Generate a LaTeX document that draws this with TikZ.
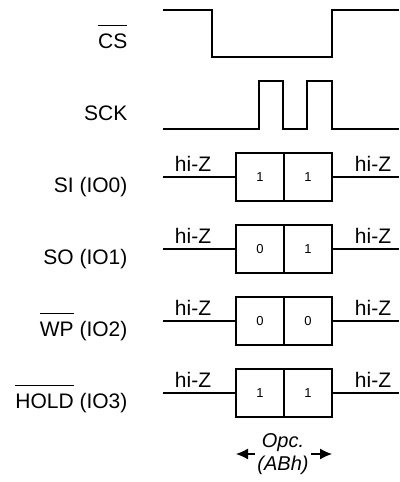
\documentclass[tikz,border=0pt]{standalone}
\usepackage{fontspec}
\setmainfont{Liberation Sans}
\usetikzlibrary{arrows.meta}

% bar over active-low signal names
\newcommand{\nbar}[1]{\setbox0\hbox{#1}\rlap{\rule[1.5\ht0]{\wd0}{1.2pt}}\box0\relax}

\begin{document}
\begin{tikzpicture}[x=1pt,y=-1pt,line width=1.2pt,
  lbl/.style={anchor=base east,inner sep=0pt,font=\fontsize{21}{25}\selectfont},
  hiz/.style={anchor=base,inner sep=0pt,font=\fontsize{21}{25}\selectfont},
  cell/.style={draw,minimum size=48pt,inner sep=0pt,font=\fontsize{13}{15}\selectfont},
  arr/.style={-{Latex[length=12pt,width=11pt]}}]
\useasboundingbox (0,0) rectangle (399,482);

% Chip select
\node[lbl] (cs) at (128,48) {\nbar{CS}};
\draw (163,10) -- (212,10) -- (212,57) -- (332,57) -- (332,10) -- (399,10);

% Clock, two pulses
\node[lbl] (sck) at (128,120) {SCK};
\draw (163,129) -- (259,129) -- (259,81) -- (283,81) -- (283,129)
  -- (307,129) -- (307,81) -- (332,81) -- (332,129) -- (399,129);

% Data lines
\foreach \y/\name/\lab/\a/\b in {177/si/{SI (IO0)}/1/1,
    249/so/{SO (IO1)}/0/1,
    321/wp/{\nbar{WP} (IO2)}/0/0,
    393/hold/{\nbar{HOLD} (IO3)}/1/1}{
  \node[lbl] (\name) at (128,\y+15) {\lab};
  \node[cell] (\name0) at (260,\y) {\a};
  \node[cell] (\name1) at (308,\y) {\b};
  \coordinate (\name-in) at (163,\y);
  \coordinate (\name-out) at (399,\y);
  \draw (\name-in) -- (\name0);
  \draw (\name1) -- (\name-out);
  \node[hiz] (\name-zl) at (193,\y-6) {hi-Z};
  \node[hiz] (\name-zr) at (373,\y-6) {hi-Z};
}

% Opcode span
\node[align=center,inner sep=2pt,font=\fontsize{20}{23}\selectfont\itshape] (opc) at (283,454) {Opc.\\(ABh)};
\coordinate (opc-l) at (236,454);
\coordinate (opc-r) at (332,454);
\draw[arr] (opc) -- (opc-l);
\draw[arr] (opc) -- (opc-r);
\end{tikzpicture}
\end{document}
